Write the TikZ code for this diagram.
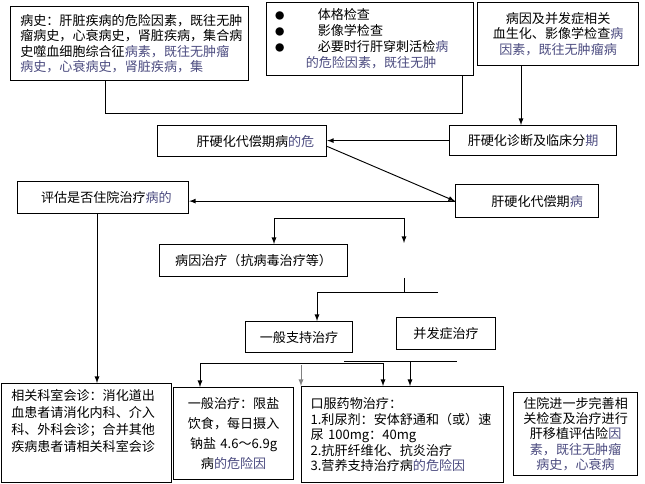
\documentclass[tikz,border=0pt]{standalone}
\usepackage{fontspec}
\setmainfont{Noto Sans CJK SC}
\usetikzlibrary{positioning}
\definecolor{ghost}{rgb}{0.3,0.3,0.5}
\newcommand{\gh}[1]{\textcolor{ghost}{#1}}

\begin{document}
\begin{tikzpicture}[x=0.75pt, y=-0.75pt,
	main/.style={rectangle, draw=black, line width=0.9pt, anchor=north west, inner sep=0pt, font=\fontsize{9.8}{11.6}\selectfont},
	line/.style={line width=0.7pt}
	]
	\useasboundingbox (0,0) rectangle (645,484);

	\node (history) [main, minimum width=178.5pt, minimum height=55.5pt, text width=168pt, align=left] at (10,6)
		{\hspace*{2pt}病史：肝脏疾病的危险因素，既往无肿\\\hspace*{2pt}瘤病史，心衰病史，肾脏疾病，集合病\\\hspace*{2pt}史噬血细胞综合征\gh{病素，既往无肿瘤}\\\hspace*{2pt}\gh{病史，心衰病史，肾脏疾病，集}};
	\node (exam) [main, minimum width=155.25pt, minimum height=54.75pt, text width=142.5pt, align=left, font=\fontsize{9.8}{12}\selectfont] at (266,2)
		{\makebox[32pt][l]{\fontsize{7}{7}\selectfont●}体格检查\\
		 \makebox[32pt][l]{\fontsize{7}{7}\selectfont●}影像学检查\\
		 \makebox[32pt][l]{\fontsize{7}{7}\selectfont●}必要时行肝穿刺活检\gh{病}\\
		 \hspace*{23pt}\gh{的危险因素，既往无肿}};
	\node (etio) [main, minimum width=120.75pt, minimum height=47.25pt, text width=112pt, align=center] at (477,2)
		{病因及并发症相关\\血生化、影像学检查\gh{病}\\\gh{因素，既往无肿瘤病}};

	\node (comp1) [main, minimum width=126.75pt, minimum height=23.25pt] at (157,125) {\hspace*{20pt}肝硬化代偿期病\gh{的危}};
	\node (diag) [main, minimum width=125.25pt, minimum height=22.5pt] at (449,125) {肝硬化诊断及临床分\gh{期}};
	\node (assess) [main, minimum width=128.25pt, minimum height=24pt] at (17,181) {\hspace*{5pt}评估是否住院治疗\gh{病的}};
	\node (comp2) [main, minimum width=107.25pt, minimum height=24.75pt] at (455,184) {\hspace*{15pt}肝硬化代偿期\gh{病}};

	\node (cause) [main, minimum width=141pt, minimum height=24pt] at (159,244) {病因治疗（抗病毒治疗等）};
	\node (support) [main, minimum width=80.25pt, minimum height=23.25pt] at (245,321) {一般支持治疗};
	\node (compl) [main, minimum width=74.25pt, minimum height=24pt] at (396,317) {并发症治疗};

	\node (consult) [main, minimum width=127.5pt, minimum height=74.25pt, text width=113pt, align=left, font=\fontsize{9.8}{12.8}\selectfont] at (1,383)
		{相关科室会诊：消化道出\\血患者请消化内科、介入\\科、外科会诊；合并其他\\疾病患者请相关科室会诊\\[6pt]\mbox{}};
	\node (diet) [main, minimum width=90pt, minimum height=69pt, text width=82pt, align=center, font=\fontsize{9.8}{15}\selectfont] at (173,387)
		{一般治疗：限盐\\饮食，每日摄入\\钠盐 4.6～6.9g\\病\gh{的危险因}};
	\node (drug) [main, minimum width=151.5pt, minimum height=72pt, text width=138pt, align=left] at (301,386)
		{口服药物治疗：\\1.利尿剂：安体舒通和（或）速\\尿 100mg：40mg\\2.抗肝纤维化、抗炎治疗\\3.营养支持治疗病\gh{的危险因}};
	\node (inpat) [main, minimum width=93pt, minimum height=62.25pt, text width=84pt, align=center] at (513,392)
		{住院进一步完善相\\关检查及治疗进行\\肝移植评估险\gh{因}\\\gh{素，既往无肿瘤}\\\gh{病史，心衰病}};

	% top joins
	\coordinate (j1) at (105,113);
	\coordinate (j2) at (462,113);
	\draw [line] (history.south -| j1) -- (j1) -- (j2) -- (exam.south -| j2);

	\coordinate (e1) at (521,100);
	\draw [line, -latex] (etio.south -| e1) -- (diag.north -| e1);
	\draw [line, -latex] (diag.west) -- (comp1.east |- diag.west);
	\draw [line, -latex] ([yshift=-4pt]comp1.east) -- (comp2.west);
	\draw [line, -latex] (comp2.west) -- (assess.east |- comp2.west);

	\coordinate (a1) at (97,300);
	\draw [line, -latex] (assess.south -| a1) -- (consult.north -| a1);

	% treatment branches
	\coordinate (b1) at (274,218);
	\coordinate (b2) at (404,218);
	\coordinate (b3) at (404,243);
	\draw [line, -latex] (b2) -- (b1) -- (cause.north -| b1);
	\draw [line, -latex] (b2) -- (b3);

	\coordinate (c0) at (404,278);
	\coordinate (c1) at (404,292);
	\coordinate (c2) at (317,292);
	\coordinate (c3) at (438,292);
	\draw [line] (c0) -- (c1);
	\draw [line, -latex] (c3) -- (c2) -- (support.north -| c2);

	% bottom branches
	\coordinate (d1) at (200,363);
	\coordinate (d2) at (383,363);
	\draw [line, -latex] (d2) -- (d1) -- (diet.north -| d1);
	\draw [line, -latex] (d2) -- (drug.north -| d2);

	\coordinate (f1) at (344,361);
	\coordinate (f2) at (457,361);
	\coordinate (f3) at (410,361);
	\draw [line] (f1) -- (f2);
	\draw [line, -latex] (f3) -- (drug.north -| f3);

	\coordinate (g1) at (301,365);
	\draw [line, -latex, gray] (g1) -- (drug.north west);
\end{tikzpicture}
\end{document}
